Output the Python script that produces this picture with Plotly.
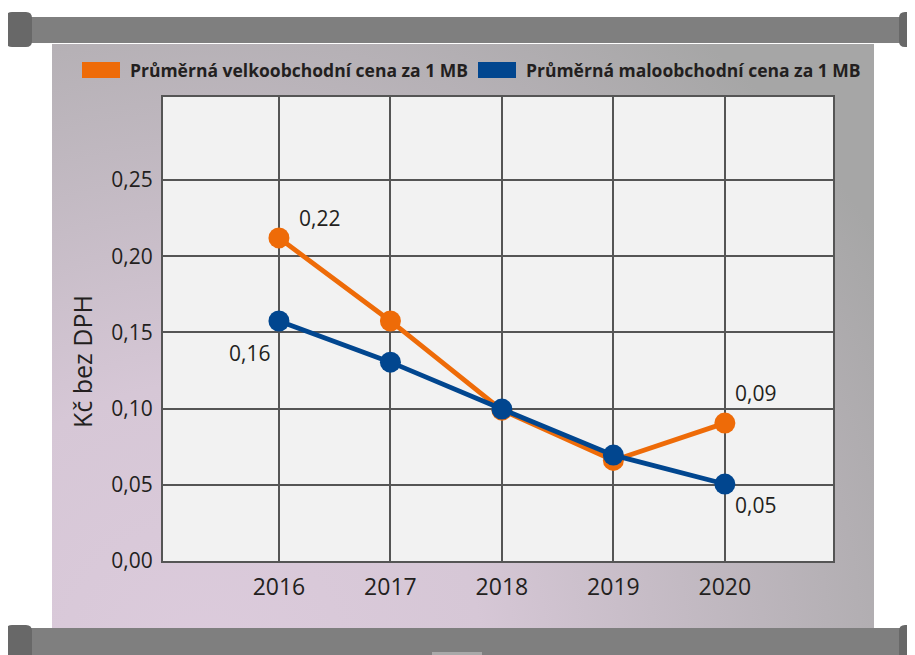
import base64
import plotly.graph_objects as go

# ---------------- data ----------------
years = [2016, 2017, 2018, 2019, 2020]
wholesale = [0.212, 0.1575, 0.099, 0.066, 0.0905]
retail = [0.1575, 0.1305, 0.0997, 0.0695, 0.0505]
series_names = ["Průměrná velkoobchodní cena za 1 MB", "Průměrná maloobchodní cena za 1 MB"]
y_ticks = [0.0, 0.05, 0.10, 0.15, 0.20, 0.25]
y_tick_text = ["0,00", "0,05", "0,10", "0,15", "0,20", "0,25"]
y_title = "Kč bez DPH"
# value labels: (series index, year, text)
label_series = [0, 1, 0, 1]
label_years = [2016, 2016, 2020, 2020]
label_texts = ["0,22", "0,16", "0,09", "0,05"]

# ---------------- style ----------------
ORANGE = "#ee6b08"
BLUE = "#01468f"
GRID = "#555555"
TXT = "#231f20"
FONT = "Open Sans"

OFF = 8            # page body margin of the browser
W, H = 915, 655    # target picture size
L, R, T, B = 163, 833, 97, 561   # plot area in picture pixels


def px(x):
    return (x - L) / (R - L)


def py(y):
    return (B - y) / (B - T)


def rrect_path(x0, y0, x1, y1, r):
    pts = [
        ("M", [(x0 + r, y0)]),
        ("L", [(x1 - r, y0)]),
        ("Q", [(x1, y0), (x1, y0 + r)]),
        ("L", [(x1, y1 - r)]),
        ("Q", [(x1, y1), (x1 - r, y1)]),
        ("L", [(x0 + r, y1)]),
        ("Q", [(x0, y1), (x0, y1 - r)]),
        ("L", [(x0, y0 + r)]),
        ("Q", [(x0, y0), (x0 + r, y0)]),
    ]
    s = ""
    for cmd, ps in pts:
        s += cmd + " " + " ".join(f"{px(a):.5f},{py(b):.5f}" for a, b in ps) + " "
    return s + "Z"


fig = go.Figure()
series_vals = [wholesale, retail]
series_cols = [ORANGE, BLUE]
for name, vals, col in zip(series_names, series_vals, series_cols):
    fig.add_trace(go.Scatter(
        x=years, y=vals, name=name, mode="lines+markers",
        line=dict(color=col, width=4.8),
        marker=dict(color=col, size=21),
        showlegend=False, cliponaxis=False,
    ))

# value labels
offsets = [(18, 20, "left"), (-7, -32, "right"), (8, 30, "left"), (8, -21, "left")]
for si, yr, txt, (dx, dy, xa) in zip(label_series, label_years, label_texts, offsets):
    fig.add_annotation(
        x=yr, y=series_vals[si][years.index(yr)], text=txt, showarrow=False,
        xanchor=xa, yanchor="middle", xshift=dx, yshift=dy,
        font=dict(family=FONT, size=21, color=TXT),
    )

# y-axis title
fig.add_annotation(
    xref="paper", yref="paper", x=px(82), y=py(362), text=y_title, textangle=-90,
    showarrow=False, xanchor="center", yanchor="middle",
    font=dict(family=FONT, size=25, color=TXT),
)

# gradient background panel
svg = (
    "<svg xmlns='http://www.w3.org/2000/svg' width='822' height='583' viewBox='0 0 822 583' "
    "preserveAspectRatio='none'><defs><radialGradient id='g' gradientUnits='userSpaceOnUse' "
    "cx='150' cy='620' r='800'><stop offset='0' stop-color='#dccbdc'/>"
    "<stop offset='0.35' stop-color='#d6c7d6'/><stop offset='1' stop-color='#a6a6a6'/>"
    "</radialGradient></defs><rect width='822' height='583' fill='url(#g)'/></svg>"
)
src = "data:image/svg+xml;base64," + base64.b64encode(svg.encode()).decode()
fig.add_layout_image(
    source=src, xref="paper", yref="paper", x=px(52), y=py(44),
    sizex=px(874) - px(52), sizey=py(44) - py(628),
    xanchor="left", yanchor="top", sizing="stretch", layer="below",
)

shapes = []
# plot area background
shapes.append(dict(type="rect", xref="paper", yref="paper", x0=0, x1=1, y0=0, y1=1,
                   fillcolor="#f2f2f2", line=dict(width=0), layer="below"))
# top and bottom rollers
for (y0, y1) in [(17, 43), (628, 670)]:
    shapes.append(dict(type="rect", xref="paper", yref="paper", x0=px(-5), x1=px(925),
                       y0=py(y1), y1=py(y0), fillcolor="#7f7f7f", line=dict(width=0), layer="below"))
for (x0, x1) in [(6, 32), (899, 930)]:
    for (y0, y1) in [(12, 47), (625, 670)]:
        shapes.append(dict(type="path", xref="paper", yref="paper", path=rrect_path(x0, y0, x1, y1, 6),
                           fillcolor="#686868", line=dict(width=0), layer="below"))
shapes.append(dict(type="rect", xref="paper", yref="paper", x0=px(432), x1=px(482),
                   y0=py(660), y1=py(652), fillcolor="#a9a9a9", line=dict(width=0), layer="below"))
# legend swatches
leg_x = [(82, 120), (478, 516)]
for (x0, x1), col in zip(leg_x, series_cols):
    shapes.append(dict(type="rect", xref="paper", yref="paper", x0=px(x0), x1=px(x1),
                       y0=py(78), y1=py(62), fillcolor=col, line=dict(width=0), layer="above"))
for (x0, x1), name in zip(leg_x, series_names):
    fig.add_annotation(xref="paper", yref="paper", x=px(x1 + 8), y=py(70), text="<b>" + name + "</b>",
                       showarrow=False, xanchor="left", yanchor="middle",
                       font=dict(family=FONT, size=17.5, color=TXT))

fig.update_layout(
    width=W - OFF, height=H - OFF,
    margin=dict(l=L - OFF, r=W - R, t=T - OFF, b=H - B, autoexpand=False),
    paper_bgcolor="white", plot_bgcolor="rgba(0,0,0,0)",
    shapes=shapes,
    font=dict(family=FONT, color=TXT),
    xaxis=dict(range=[2014.96, 2020.97], tickvals=years, ticktext=[str(y) for y in years],
               showgrid=True, gridcolor=GRID, gridwidth=2, zeroline=False,
               showline=True, linecolor=GRID, linewidth=2, mirror=True,
               ticks="", ticklabelstandoff=4, tickfont=dict(size=23, color=TXT, family=FONT)),
    yaxis=dict(range=[0, 0.3045], tickvals=y_ticks, ticktext=y_tick_text,
               showgrid=True, gridcolor=GRID, gridwidth=2, zeroline=False,
               showline=True, linecolor=GRID, linewidth=2, mirror=True,
               ticks="", ticklabelstandoff=4, tickfont=dict(size=21, color=TXT, family=FONT)),
)

fig.write_html("out.html")
